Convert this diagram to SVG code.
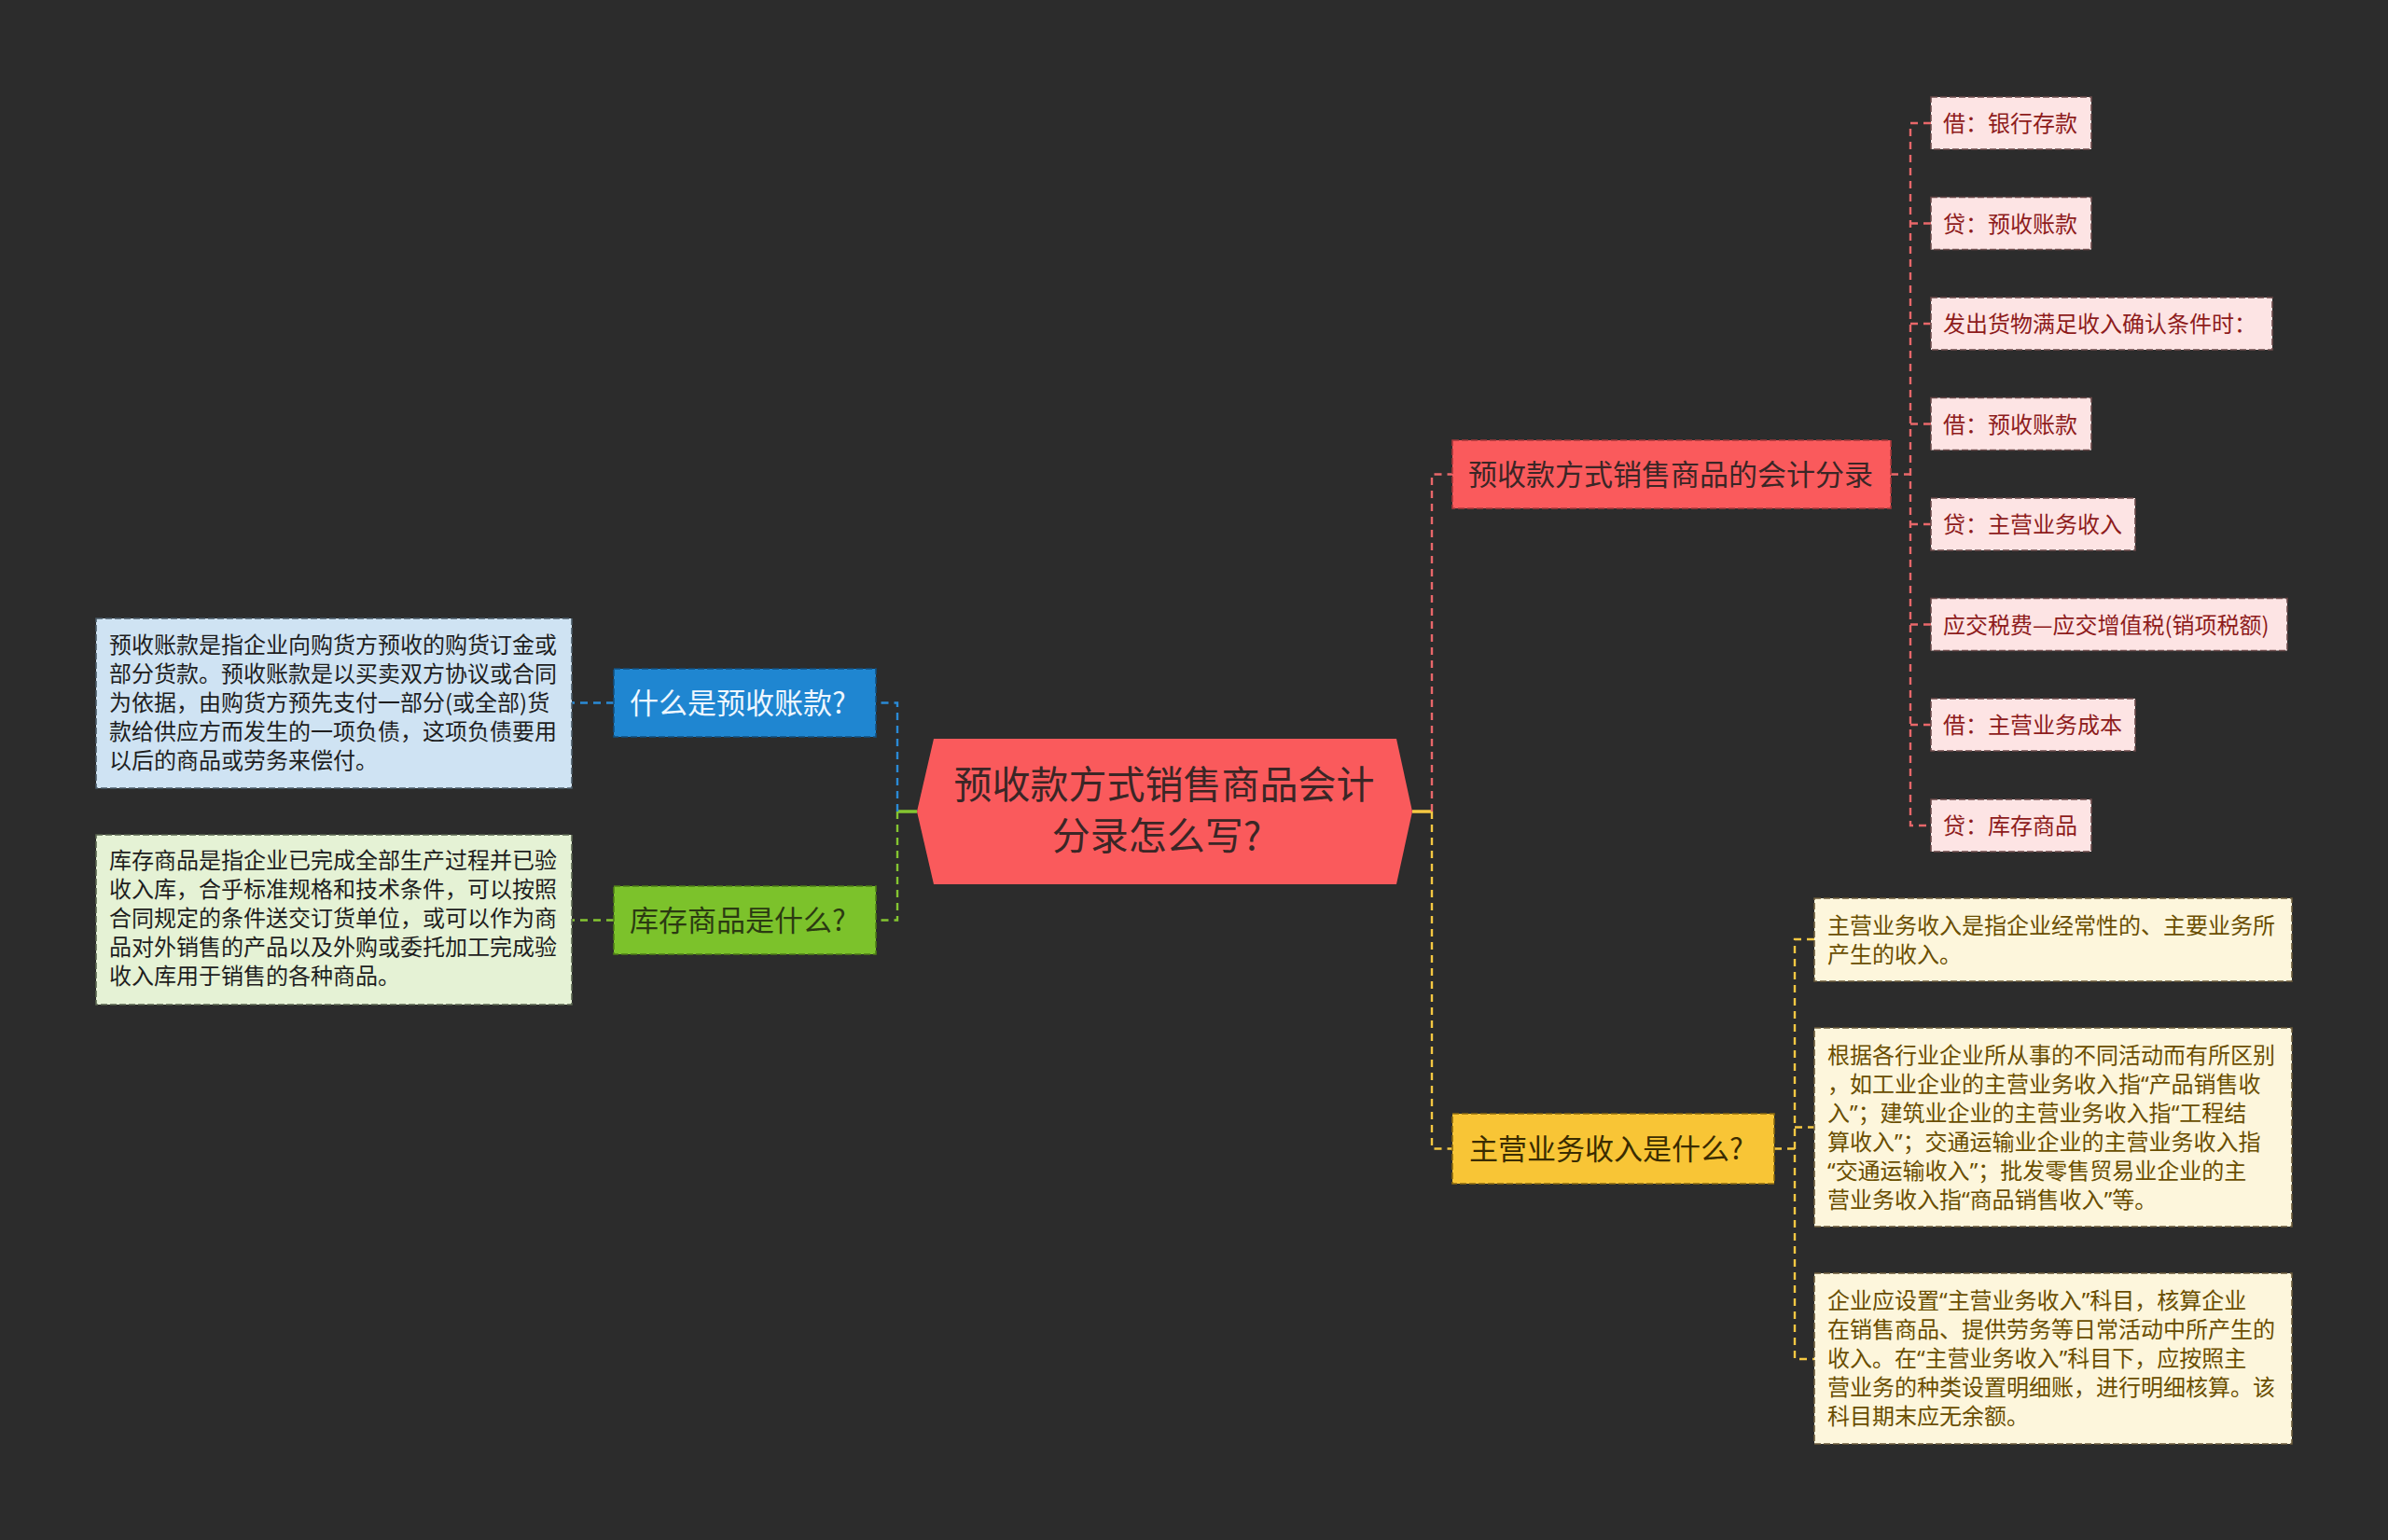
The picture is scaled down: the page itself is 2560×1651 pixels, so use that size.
<svg xmlns="http://www.w3.org/2000/svg" width="2560" height="1651" viewBox="0 0 2560 1651">
<style>
text{font-family:"Noto Sans CJK SC","Noto Sans",sans-serif;}
.q{font-family:"Noto Sans","Liberation Sans",sans-serif;}
.bd{stroke-width:1.6;stroke-dasharray:7 3;}
.c{fill:none;stroke-width:2.4;stroke-dasharray:8 6;}
.s{fill:none;stroke-width:3.5;}
.lf{font-size:24px;fill:#8e1c1c;}
.tb{font-size:24px;fill:#1e1e1e;}
.ty{font-size:24px;fill:#6a4e00;}
.br{font-size:31px;}
</style>
<rect x="0" y="0" width="2560" height="1651" fill="#2c2c2c"/>
<g id="connectors">
<path class="s" stroke="#84c531" d="M983 870H962"/>
<path class="c" stroke="#2a8ad6" d="M962 870V753.5H939"/>
<path class="c" stroke="#84c531" d="M962 870V986.5H939"/>
<path class="c" stroke="#2a8ad6" d="M658 753.5H613"/>
<path class="c" stroke="#84c531" d="M658 986.5H613"/>
<path class="s" stroke="#f5c842" d="M1514 870H1535"/>
<path class="c" stroke="#e8676a" d="M1535 870V508.5H1557"/>
<path class="c" stroke="#f5c842" d="M1535 870V1231.5H1557"/>
<path class="c" stroke="#e8676a" d="M2027 508.5H2048"/>
<path class="c" stroke="#e8676a" d="M2070 132H2048V885H2070M2048 239.5H2070M2048 347H2070M2048 454.5H2070M2048 562H2070M2048 669.5H2070M2048 777H2070"/>
<path class="c" stroke="#f5c842" d="M1902 1231.5H1924"/>
<path class="c" stroke="#f5c842" d="M1945 1007H1924V1457H1945M1924 1208.5H1945"/>
</g>
<g id="center">
<polygon points="1001,792 1497,792 1514,870 1497,948 1001,948 983,870" fill="#fa5a5c"/>
<text x="1248" y="856" font-size="41" fill="#3b2626" text-anchor="middle">预收款方式销售商品会计</text>
<text x="1240" y="911" font-size="41" fill="#3b2626" text-anchor="middle">分录怎么写?</text>
</g>
<g id="n-blue">
<rect class="bd" x="658" y="717" width="281" height="73" fill="#1f86d1" stroke="#134f7e"/>
<text class="br" x="675" y="765" fill="#eef7ff">什么是预收账款?</text>
</g>
<g id="n-green">
<rect class="bd" x="658" y="950" width="281" height="73" fill="#7cc22b" stroke="#4d7d17"/>
<text class="br" x="675" y="998" fill="#2b3a12">库存商品是什么?</text>
</g>
<g id="t-blue">
<rect class="bd" x="103" y="663" width="510" height="182" fill="#cfe3f3" stroke="#4a5a66"/>
<text class="tb" x="117" y="700">预收账款是指企业向购货方预收的购货订金或</text>
<text class="tb" x="117" y="731">部分货款。预收账款是以买卖双方协议或合同</text>
<text class="tb" x="117" y="762">为依据，由购货方预先支付一部分(或全部)货</text>
<text class="tb" x="117" y="793">款给供应方而发生的一项负债，这项负债要用</text>
<text class="tb" x="117" y="824">以后的商品或劳务来偿付。</text>
</g>
<g id="t-green">
<rect class="bd" x="103" y="895" width="510" height="182" fill="#e5f2d5" stroke="#5a6650"/>
<text class="tb" x="117" y="931">库存商品是指企业已完成全部生产过程并已验</text>
<text class="tb" x="117" y="962">收入库，合乎标准规格和技术条件，可以按照</text>
<text class="tb" x="117" y="993">合同规定的条件送交订货单位，或可以作为商</text>
<text class="tb" x="117" y="1024">品对外销售的产品以及外购或委托加工完成验</text>
<text class="tb" x="117" y="1055">收入库用于销售的各种商品。</text>
</g>
<g id="n-red">
<rect class="bd" x="1557" y="472" width="470" height="73" fill="#fa5a5c" stroke="#a8383b"/>
<text class="br" x="1574" y="520" fill="#3b2626">预收款方式销售商品的会计分录</text>
</g>
<g id="r1"><rect class="bd" x="2070" y="104" width="172" height="56" fill="#fde4e4" stroke="#6b4a4a"/><text class="lf" x="2083" y="141">借：银行存款</text></g>
<g id="r2"><rect class="bd" x="2070" y="211.5" width="172" height="56" fill="#fde4e4" stroke="#6b4a4a"/><text class="lf" x="2083" y="248.5">贷：预收账款</text></g>
<g id="r3"><rect class="bd" x="2070" y="319" width="366" height="56" fill="#fde4e4" stroke="#6b4a4a"/><text class="lf" x="2083" y="356">发出货物满足收入确认条件时：</text></g>
<g id="r4"><rect class="bd" x="2070" y="426.5" width="172" height="56" fill="#fde4e4" stroke="#6b4a4a"/><text class="lf" x="2083" y="463.5">借：预收账款</text></g>
<g id="r5"><rect class="bd" x="2070" y="534" width="219" height="56" fill="#fde4e4" stroke="#6b4a4a"/><text class="lf" x="2083" y="571">贷：主营业务收入</text></g>
<g id="r6"><rect class="bd" x="2070" y="641.5" width="382" height="56" fill="#fde4e4" stroke="#6b4a4a"/><text class="lf" x="2083" y="678.5">应交税费—应交增值税(销项税额)</text></g>
<g id="r7"><rect class="bd" x="2070" y="749" width="219" height="56" fill="#fde4e4" stroke="#6b4a4a"/><text class="lf" x="2083" y="786">借：主营业务成本</text></g>
<g id="r8"><rect class="bd" x="2070" y="857" width="172" height="56" fill="#fde4e4" stroke="#6b4a4a"/><text class="lf" x="2083" y="894">贷：库存商品</text></g>
<g id="n-yellow">
<rect class="bd" x="1557" y="1194" width="345" height="75" fill="#f8c536" stroke="#8a6a10"/>
<text class="br" x="1575" y="1243" fill="#3a2c00">主营业务收入是什么?</text>
</g>
<g id="y1">
<rect class="bd" x="1945" y="963" width="512" height="89" fill="#fdf6dc" stroke="#6a5a3a"/>
<text class="ty" x="1959" y="1001">主营业务收入是指企业经常性的、主要业务所</text>
<text class="ty" x="1959" y="1032">产生的收入。</text>
</g>
<g id="y2">
<rect class="bd" x="1945" y="1102" width="512" height="213" fill="#fdf6dc" stroke="#6a5a3a"/>
<text class="ty" x="1959" y="1140">根据各行业企业所从事的不同活动而有所区别</text>
<text class="ty" x="1959" y="1171">，如工业企业的主营业务收入指<tspan class="q">“</tspan>产品销售收</text>
<text class="ty" x="1959" y="1202">入<tspan class="q">”</tspan>；建筑业企业的主营业务收入指<tspan class="q">“</tspan>工程结</text>
<text class="ty" x="1959" y="1233">算收入<tspan class="q">”</tspan>；交通运输业企业的主营业务收入指</text>
<text class="ty" x="1959" y="1264"><tspan class="q">“</tspan>交通运输收入<tspan class="q">”</tspan>；批发零售贸易业企业的主</text>
<text class="ty" x="1959" y="1295">营业务收入指<tspan class="q">“</tspan>商品销售收入<tspan class="q">”</tspan>等。</text>
</g>
<g id="y3">
<rect class="bd" x="1945" y="1365" width="512" height="183" fill="#fdf6dc" stroke="#6a5a3a"/>
<text class="ty" x="1959" y="1403">企业应设置<tspan class="q">“</tspan>主营业务收入<tspan class="q">”</tspan>科目，核算企业</text>
<text class="ty" x="1959" y="1434">在销售商品、提供劳务等日常活动中所产生的</text>
<text class="ty" x="1959" y="1465">收入。在<tspan class="q">“</tspan>主营业务收入<tspan class="q">”</tspan>科目下，应按照主</text>
<text class="ty" x="1959" y="1496">营业务的种类设置明细账，进行明细核算。该</text>
<text class="ty" x="1959" y="1527">科目期末应无余额。</text>
</g>
</svg>
